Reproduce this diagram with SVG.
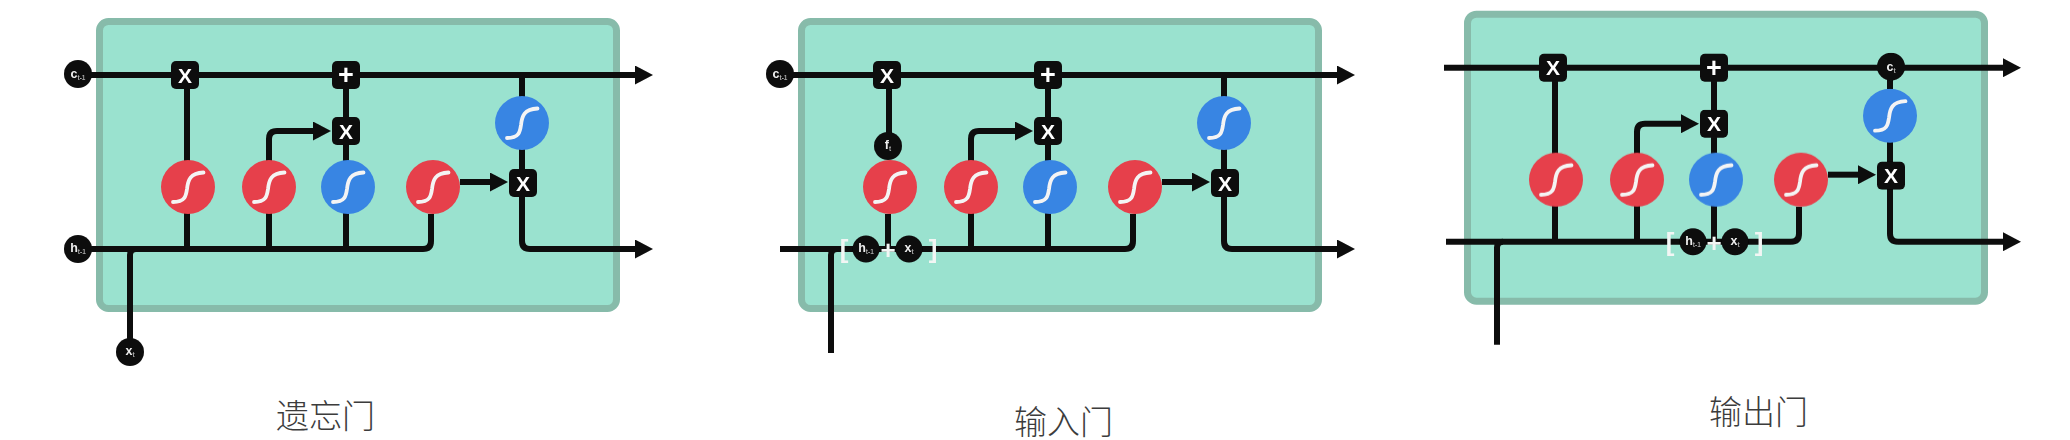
<svg xmlns="http://www.w3.org/2000/svg" width="2070" height="440" viewBox="0 0 2070 440">
<style>
.bg{fill:#9ae2cf;stroke:#87bbaa;stroke-width:7}
.c path{fill:none;stroke:#0b0b0b;stroke-width:6}
.box{fill:#0b0b0b}
.dot{fill:#0b0b0b}
.red{fill:#e63f4b}
.blue{fill:#3985e3}
.s{fill:none;stroke:#f4f4f4;stroke-width:3.8;stroke-linecap:round}
.op{fill:#fff;font:bold 21px "Liberation Sans",Arial,sans-serif;text-anchor:middle}
.pl{fill:#fff;font:bold 27px "Liberation Sans",Arial,sans-serif;text-anchor:middle}
.v{fill:#eee;font:bold 12.5px "Liberation Sans",Arial,sans-serif;text-anchor:middle}
.v tspan{font-size:6.5px;fill:#aaa}
.br{fill:#f2f6f4;font:bold 26px "Liberation Sans",Arial,sans-serif;text-anchor:middle}
.wp{fill:#f2f6f4;font:bold 26px "Liberation Sans",Arial,sans-serif;text-anchor:middle}
.cap{fill:#3c3c3c;font:300 33px "Noto Sans CJK SC","Noto Sans CJK TC",sans-serif;text-anchor:middle}
</style>
<defs>
<filter id="soft" x="-5%" y="-5%" width="110%" height="110%"><feGaussianBlur stdDeviation="0.6"/></filter>
<marker id="ah" markerUnits="userSpaceOnUse" markerWidth="18" markerHeight="19" viewBox="0 0 18 19" refX="1" refY="9.5" orient="auto"><path d="M0 0L18 9.5L0 19Z" fill="#0b0b0b"/></marker>
<g id="sig"><path class="s" d="M-15 15C-3 15-2 9-1 2C0-7 2-14 15.5-14.5"/></g>
<g id="sr"><circle class="red" r="27"/><use href="#sig"/></g>
<g id="sb"><circle class="blue" r="27"/><use href="#sig"/></g>
<rect id="bx" class="box" x="-14" y="-14" width="28" height="28" rx="5"/>
</defs>
<rect width="2070" height="440" fill="#fff"/>

<g id="panel-forget" filter="url(#soft)"><rect class="bg" x="99.5" y="21.5" width="517" height="287" rx="9"/></g>
<g id="panel-input" filter="url(#soft)"><rect class="bg" x="801.5" y="21.5" width="517" height="287" rx="9"/></g>
<g id="panel-output" filter="url(#soft)"><rect class="bg" x="1467.5" y="14.2" width="517" height="287" rx="9"/></g>

<g id="connectors" class="c" filter="url(#soft)">
<g id="conn-forget">
<path d="M78 75H636" marker-end="url(#ah)"/>
<path d="M78 249H423Q431 249 431 241V214"/>
<path d="M187 75V249"/>
<path d="M269 249V139Q269 131 277 131H314" marker-end="url(#ah)"/>
<path d="M346 75V249"/>
<path d="M522 75V183"/>
<path d="M522 183V241Q522 249 530 249H636" marker-end="url(#ah)"/>
<path d="M460 182H491" marker-end="url(#ah)"/>
<path d="M130 352V255Q130 249 136 249"/>
</g>
<g id="conn-input" transform="translate(702 0)">
<path d="M78 75H636" marker-end="url(#ah)"/>
<path d="M78 249H423Q431 249 431 241V214"/>
<path d="M187 75V146"/>
<path d="M186 214V249"/>
<path d="M269 249V139Q269 131 277 131H314" marker-end="url(#ah)"/>
<path d="M346 75V249"/>
<path d="M522 75V183"/>
<path d="M522 183V241Q522 249 530 249H636" marker-end="url(#ah)"/>
<path d="M460 182H491" marker-end="url(#ah)"/>
<path d="M129 353V255Q129 249 135 249"/>
</g>
<g id="conn-output" transform="translate(1368 -7.3)">
<path d="M76 75H636" marker-end="url(#ah)"/>
<path d="M78 249H423Q431 249 431 241V214"/>
<path d="M187 75V249"/>
<path d="M269 249V139Q269 131 277 131H314" marker-end="url(#ah)"/>
<path d="M346 75V249"/>
<path d="M522 75V183"/>
<path d="M522 183V241Q522 249 530 249H636" marker-end="url(#ah)"/>
<path d="M460 182H491" marker-end="url(#ah)"/>
<path d="M129 352V255Q129 249 135 249"/>
</g>
</g>

<g id="nodes-forget" filter="url(#soft)">
<g id="f-c" transform="translate(78 74)"><circle class="dot" r="14"/><text class="v" y="4">c<tspan dy="2">t-1</tspan></text></g>
<g id="f-h" transform="translate(78 249)"><circle class="dot" r="14"/><text class="v" y="3">h<tspan dy="2">t-1</tspan></text></g>
<g id="f-x" transform="translate(130 352)"><circle class="dot" r="14"/><text class="v" y="3">x<tspan dy="2">t</tspan></text></g>
<g id="f-x1" transform="translate(185 75)"><use href="#bx"/><text class="op" y="7.5">X</text></g>
<g id="f-plus" transform="translate(346 75)"><use href="#bx"/><text class="pl" y="9">+</text></g>
<g id="f-x2" transform="translate(346 131)"><use href="#bx"/><text class="op" y="7.5">X</text></g>
<g id="f-x3" transform="translate(523 183)"><use href="#bx"/><text class="op" y="7.5">X</text></g>
<g id="f-s1" transform="translate(188 187)"><use href="#sr"/></g>
<g id="f-s2" transform="translate(269 187)"><use href="#sr"/></g>
<g id="f-s3" transform="translate(348 187)"><use href="#sb"/></g>
<g id="f-s4" transform="translate(433 187)"><use href="#sr"/></g>
<g id="f-s5" transform="translate(522 123)"><use href="#sb"/></g>
</g>

<g id="nodes-input" transform="translate(702 0)" filter="url(#soft)">
<g id="i-c" transform="translate(78 74)"><circle class="dot" r="14"/><text class="v" y="4">c<tspan dy="2">t-1</tspan></text></g>
<g id="i-f" transform="translate(186 146)"><circle class="dot" r="14"/><text class="v" y="3">f<tspan dy="2">t</tspan></text></g>
<g id="i-x1" transform="translate(185 75)"><use href="#bx"/><text class="op" y="7.5">X</text></g>
<g id="i-plus" transform="translate(346 75)"><use href="#bx"/><text class="pl" y="9">+</text></g>
<g id="i-x2" transform="translate(346 131)"><use href="#bx"/><text class="op" y="7.5">X</text></g>
<g id="i-x3" transform="translate(523 183)"><use href="#bx"/><text class="op" y="7.5">X</text></g>
<g id="i-s1" transform="translate(188 187)"><use href="#sr"/></g>
<g id="i-s2" transform="translate(269 187)"><use href="#sr"/></g>
<g id="i-s3" transform="translate(348 187)"><use href="#sb"/></g>
<g id="i-s4" transform="translate(433 187)"><use href="#sr"/></g>
<g id="i-s5" transform="translate(522 123)"><use href="#sb"/></g>
<g id="i-formula">
<text class="br" x="142" y="258">[</text>
<g transform="translate(164 249)"><circle class="dot" r="13.5"/><text class="v" y="3">h<tspan dy="2">t-1</tspan></text></g>
<text class="wp" x="186" y="259">+</text>
<g transform="translate(207 249)"><circle class="dot" r="13.5"/><text class="v" y="3">x<tspan dy="2">t</tspan></text></g>
<text class="br" x="231" y="258">]</text>
</g>
</g>

<g id="nodes-output" transform="translate(1368 -7.3)" filter="url(#soft)">
<g id="o-c" transform="translate(523 74)"><circle class="dot" r="14"/><text class="v" y="4">c<tspan dy="2">t</tspan></text></g>
<g id="o-x1" transform="translate(185 75)"><use href="#bx"/><text class="op" y="7.5">X</text></g>
<g id="o-plus" transform="translate(346 75)"><use href="#bx"/><text class="pl" y="9">+</text></g>
<g id="o-x2" transform="translate(346 131)"><use href="#bx"/><text class="op" y="7.5">X</text></g>
<g id="o-x3" transform="translate(523 183)"><use href="#bx"/><text class="op" y="7.5">X</text></g>
<g id="o-s1" transform="translate(188 187)"><use href="#sr"/></g>
<g id="o-s2" transform="translate(269 187)"><use href="#sr"/></g>
<g id="o-s3" transform="translate(348 187)"><use href="#sb"/></g>
<g id="o-s4" transform="translate(433 187)"><use href="#sr"/></g>
<g id="o-s5" transform="translate(522 123)"><use href="#sb"/></g>
<g id="o-formula">
<text class="br" x="302" y="258">[</text>
<g transform="translate(325 249)"><circle class="dot" r="13.5"/><text class="v" y="3">h<tspan dy="2">t-1</tspan></text></g>
<text class="wp" x="346" y="259">+</text>
<g transform="translate(367 249)"><circle class="dot" r="13.5"/><text class="v" y="3">x<tspan dy="2">t</tspan></text></g>
<text class="br" x="391" y="258">]</text>
</g>
</g>

<text id="cap-forget" class="cap" x="325.5" y="428">遗忘门</text>
<text id="cap-input" class="cap" x="1063.5" y="434">输入门</text>
<text id="cap-output" class="cap" x="1758.5" y="424">输出门</text>
</svg>
